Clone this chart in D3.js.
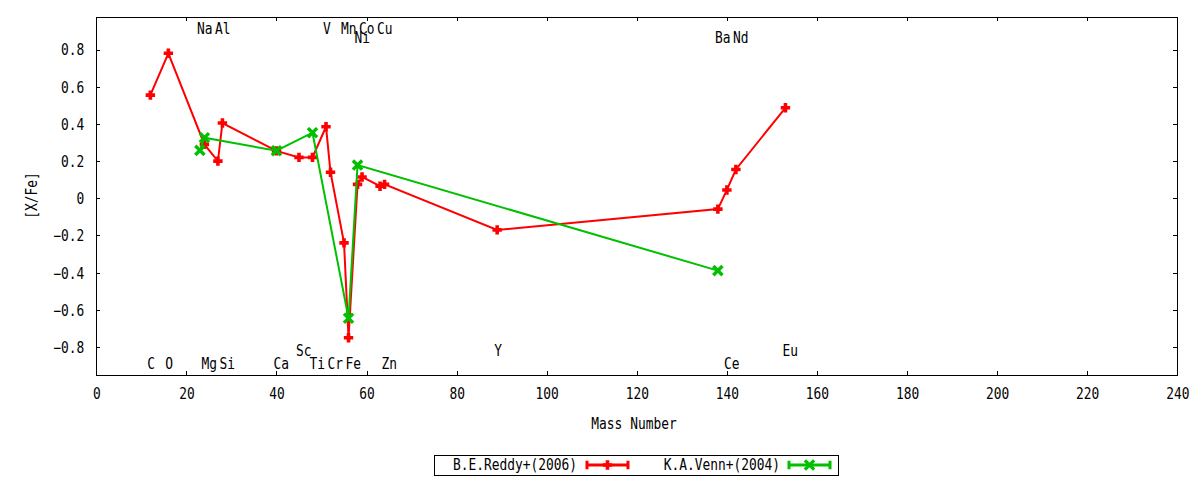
<!DOCTYPE html>
<html>
<head>
<meta charset="utf-8">
<script src="https://cdn.jsdelivr.net/npm/d3@7"></script>
<style>
  html, body { margin: 0; padding: 0; background: #fff; }
  svg { display: block; }
  text { font-family: "DejaVu Sans Mono", "Liberation Mono", monospace; font-size: 15px; fill: #000; }
</style>
</head>
<body>
<svg id="chart" width="1200" height="480"></svg>
<script>
// ---- data ----
const reddyElements = ["C","O","Mg","Al","Si","Ca","Sc","Ti","V","Cr","Mn","Fe","Ni","Co","Cu","Zn","Y","Ba","Ce","Nd","Eu"];
const reddyMass     = [12, 16, 24, 27, 28, 40, 45, 48, 51, 52, 55, 56, 58, 59, 63, 64, 89, 138, 140, 142, 153];
const reddyValues   = [0.555, 0.78, 0.29, 0.20, 0.405, 0.255, 0.22, 0.22, 0.385, 0.14, -0.24, -0.75, 0.075, 0.115, 0.065, 0.075, -0.17, -0.058, 0.045, 0.155, 0.487];

const vennElements = ["Na","Mg","Ca","Ti","Fe","Ni","Ba"];
const vennMass     = [23, 24, 40, 48, 56, 58, 138];
const vennValues   = [0.258, 0.326, 0.256, 0.353, -0.645, 0.179, -0.389];

const labelNames = ["Na","Al","V","Mn","Co","Cu","Ni","Ba","Nd","Sc","Y","Eu","C","O","Mg","Si","Ca","Ti","Cr","Fe","Zn","Ce"];
const labelMass  = [23, 27, 51, 55, 59, 63, 58, 138, 142, 45, 89, 153, 12, 16, 24, 28, 40, 48, 52, 56, 64, 140];
const labelLevel = [0.9, 0.9, 0.9, 0.9, 0.9, 0.9, 0.85, 0.85, 0.85, -0.83, -0.83, -0.83, -0.9, -0.9, -0.9, -0.9, -0.9, -0.9, -0.9, -0.9, -0.9, -0.9];

const xTicks = [0,20,40,60,80,100,120,140,160,180,200,220,240];
const yTicks = [-0.8,-0.6,-0.4,-0.2,0,0.2,0.4,0.6,0.8];
const seriesNames = ["B.E.Reddy+(2006)", "K.A.Venn+(2004)"];
const xTitle = "Mass Number";
const yTitle = "[X/Fe]";

// ---- layout ----
const L = 96.3, R = 1177.3, T = 17.3, B = 375;
const SX = 0.86; // horizontal condense of text
const RED = "#ff0000", GREEN = "#00c000";

const svg = d3.select("#chart");
const x = d3.scaleLinear().domain([0, 240]).range([L, R]);
const y = d3.scaleLinear().domain([-0.9505, 0.9737]).range([B, T]);

function txt(parent, px, py, s, anchor, extra) {
  return parent.append("text")
    .attr("transform", `translate(${px},${py})` + (extra || "") + ` scale(${SX},1)`)
    .attr("text-anchor", anchor || "start")
    .text(s);
}

// axes
const fmtY = d => d === 0 ? "0" : d3.format(".1f")(d);
const gx = svg.append("g").attr("transform", `translate(0,${B})`)
  .call(d3.axisBottom(x).tickValues(xTicks).tickSizeInner(-4).tickSizeOuter(0).tickFormat(d3.format("d")));
const gxTop = svg.append("g").attr("transform", `translate(0,${T})`)
  .call(d3.axisTop(x).tickValues(xTicks).tickSizeInner(-4).tickSizeOuter(0).tickFormat(""));
const gy = svg.append("g").attr("transform", `translate(${L},0)`)
  .call(d3.axisLeft(y).tickValues(yTicks).tickSizeInner(-4).tickSizeOuter(0).tickFormat(fmtY));
const gyR = svg.append("g").attr("transform", `translate(${R},0)`)
  .call(d3.axisRight(y).tickValues(yTicks).tickSizeInner(-4).tickSizeOuter(0).tickFormat(""));

[gx, gxTop, gy, gyR].forEach(g => {
  g.select(".domain").remove();
  g.selectAll(".tick line").attr("stroke", "#000").attr("stroke-width", 1).attr("shape-rendering", "crispEdges");
  g.selectAll("text").attr("font-family", null).attr("font-size", null).attr("fill", "#000");
});
gx.selectAll(".tick text").attr("y", null).attr("dy", null)
  .attr("transform", `translate(0,19) scale(${SX},1)`).attr("dominant-baseline", "central");
gy.selectAll(".tick text").attr("x", null).attr("dy", null)
  .attr("transform", `translate(-12,0) scale(${SX},1)`).attr("dominant-baseline", "central");

// border
svg.append("rect").attr("x", L).attr("y", T).attr("width", R - L).attr("height", B - T)
  .attr("fill", "none").attr("stroke", "#000").attr("stroke-width", 1).attr("shape-rendering", "crispEdges");

// axis titles
txt(svg, 634, 424, xTitle, "middle").attr("dominant-baseline", "central");
txt(svg, 31.5, 195.5, yTitle, "middle", " rotate(-90)").attr("dominant-baseline", "central");

// element labels
const lab = svg.append("g");
labelNames.forEach((n, i) => {
  txt(lab, x(labelMass[i]) - 3, y(labelLevel[i]) + 3, n, "start");
});

// markers
function plusMark(g, cx, cy, color) {
  g.append("path").attr("d", `M${cx-4.7},${cy}H${cx+4.7}M${cx},${cy-4.7}V${cy+4.7}`)
    .attr("stroke", color).attr("stroke-width", 3.6).attr("fill", "none");
}
function crossMark(g, cx, cy, color) {
  const s = 3.4;
  g.append("path").attr("d", `M${cx-s},${cy-s}L${cx+s},${cy+s}M${cx-s},${cy+s}L${cx+s},${cy-s}`)
    .attr("stroke", color).attr("stroke-width", 3.4).attr("stroke-linecap", "square").attr("fill", "none");
}

const line = d3.line().x(d => x(d[0])).y(d => y(d[1]));
function series(mass, vals, color, marker) {
  const pts = mass.map((m, i) => [m, vals[i]]);
  const g = svg.append("g");
  g.append("path").datum(pts).attr("d", line).attr("fill", "none")
    .attr("stroke", color).attr("stroke-width", 2).attr("stroke-linejoin", "miter");
  pts.forEach(p => marker(g, x(p[0]), y(p[1]), color));
}
series(reddyMass, reddyValues, RED, plusMark);
series(vennMass, vennValues, GREEN, crossMark);

// legend
const lg = svg.append("g");
lg.append("rect").attr("x", 434.5).attr("y", 455.5).attr("width", 404).attr("height", 20)
  .attr("fill", "#fff").attr("stroke", "#000").attr("stroke-width", 1).attr("shape-rendering", "crispEdges");
function legendItem(textRight, x0, x1, color, marker, label) {
  txt(lg, textRight, 465, label, "end").attr("dominant-baseline", "central");
  const yy = 465;
  lg.append("path").attr("d", `M${x0},${yy}H${x1}M${x0},${yy-4.2}V${yy+4.2}M${x1},${yy-4.2}V${yy+4.2}`)
    .attr("stroke", color).attr("stroke-width", 3).attr("fill", "none");
  marker(lg, (x0 + x1) / 2, yy, color);
}
legendItem(577, 587, 628, RED, plusMark, seriesNames[0]);
legendItem(780, 789, 830, GREEN, crossMark, seriesNames[1]);
</script>
</body>
</html>
